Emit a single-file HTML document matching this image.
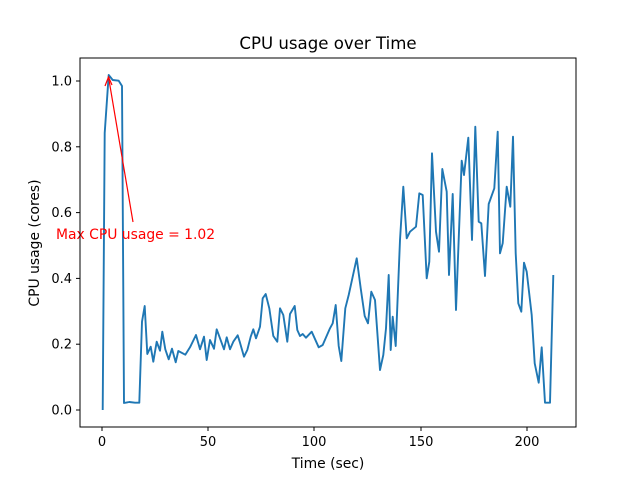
<!DOCTYPE html>
<html><head><meta charset="utf-8"><style>body{margin:0;background:#fff}svg{display:block}text{font-family:"DejaVu Sans","Liberation Sans",sans-serif}</style></head><body>
<svg width="640" height="480" viewBox="0 0 640 480" xmlns="http://www.w3.org/2000/svg">
<rect width="640" height="480" fill="#fff"/>
<polyline fill="none" stroke="#1f77b4" stroke-width="1.9" stroke-linejoin="round" points="102.7,410 104.7,133 108.7,75 112.7,80 118.7,80.7 122,86 124,403 129.3,402 135,402.7 139.3,402.7 142,321.7 144.7,306 147.3,354 150.7,346.7 153.3,361.7 156.7,341.7 160,350.7 162.3,331.7 165.3,349.3 168.7,359.3 172,348.7 175.7,362.3 178.3,351 185.3,354.7 190,347.3 196,335 200,349.3 204,336.7 206.7,360 210,340 214,348.7 216.7,329.3 220,338.3 224,349.3 226.7,337.3 230,349.3 233.3,341.7 237.7,335.3 240,342.7 244,356.7 247.3,350 250.7,336.7 253.3,329.3 256,338.3 260,326.7 262.7,298.3 265.7,294 269.3,308.3 273.3,336 277.3,341.7 280,308.3 283.3,315 287.3,341.7 290,314 294.7,306 297.3,330 300,336 302.7,334 306,337.7 311.7,331.7 318.7,347.3 322.7,345 330,328.3 332.7,323.3 335.7,305 338.7,346 341.3,361 345.3,308.3 348.7,295 352.7,276.7 356.7,258.3 360.7,288.3 364.7,316 368,323.3 371.3,291.7 375,300 380,370 383.3,355 386,328.3 388.7,275 390.7,350 392.7,316.7 395.7,346 400,240 403.3,186.7 406.7,238.3 410,231.7 416,226.7 419.3,193.3 422.7,195 426.7,278.3 429.3,261.7 432,153.3 436,231.7 439,251.7 442.3,169 446.7,191.7 449,275 452.7,194 456,310 461.7,160.7 464,175 468.3,137.7 472,240 475.3,126.7 478.7,221.7 481.3,223.3 485,276 488.7,204 494.3,188.3 497.7,131.7 500,253.3 502.7,243.3 506.7,186.7 510.3,206.7 513,136.7 515.7,253.3 518.3,303.3 521.3,311.7 524,262.7 526.7,271.7 531.7,315 534.7,363.3 538.7,382.7 541.7,347.3 545,402.7 550,402.7 553.3,275"/>
<line x1="133" y1="222" x2="108.5" y2="77" stroke="red" stroke-width="1.2"/>
<polyline points="105,86 108.5,77 112,85" fill="none" stroke="red" stroke-width="1.2"/>
<text x="56" y="239" font-size="13.9" fill="red">Max CPU usage = 1.02</text>
<rect x="80" y="58" width="496" height="369" fill="none" stroke="#000" stroke-width="1"/>
<g stroke="#000" stroke-width="1">
<line x1="102" y1="427" x2="102" y2="431"/><line x1="208" y1="427" x2="208" y2="431"/><line x1="314" y1="427" x2="314" y2="431"/><line x1="421" y1="427" x2="421" y2="431"/><line x1="527" y1="427" x2="527" y2="431"/>
<line x1="76" y1="410" x2="80" y2="410"/><line x1="76" y1="344.2" x2="80" y2="344.2"/><line x1="76" y1="278.4" x2="80" y2="278.4"/><line x1="76" y1="212.6" x2="80" y2="212.6"/><line x1="76" y1="146.8" x2="80" y2="146.8"/><line x1="76" y1="81" x2="80" y2="81"/>
</g>
<g font-size="13" fill="#000" text-anchor="middle">
<text x="102" y="446">0</text><text x="208" y="446">50</text><text x="314" y="446">100</text><text x="421" y="446">150</text><text x="527" y="446">200</text>
</g>
<g font-size="13" fill="#000" text-anchor="end">
<text x="72" y="414.5">0.0</text><text x="72" y="348.5">0.2</text><text x="72" y="283">0.4</text><text x="72" y="217">0.6</text><text x="72" y="151.5">0.8</text><text x="72" y="85.5">1.0</text>
</g>
<text x="328" y="468" font-size="13.9" text-anchor="middle">Time (sec)</text>
<text x="0" y="0" font-size="13.9" text-anchor="middle" transform="translate(39,243) rotate(-90)">CPU usage (cores)</text>
<text x="328" y="49" font-size="16.6" text-anchor="middle">CPU usage over Time</text>
</svg>
</body></html>
